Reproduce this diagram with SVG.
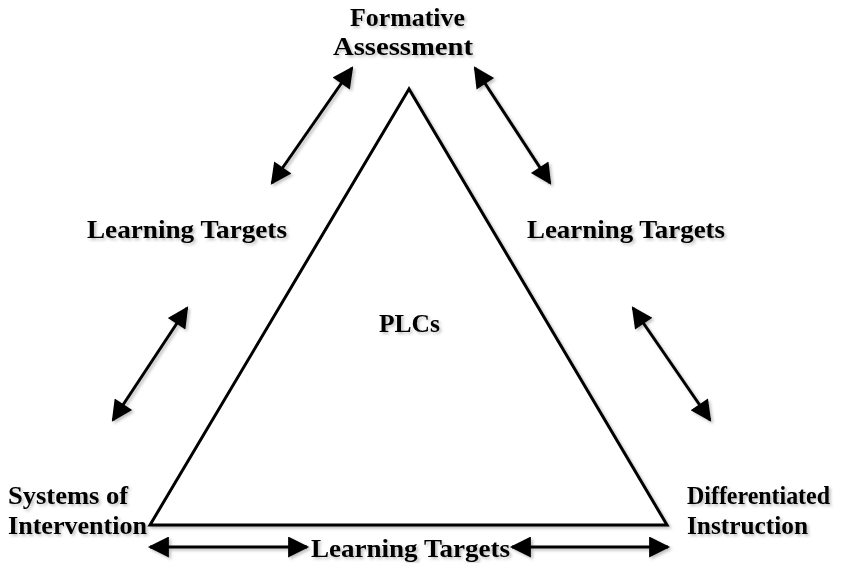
<svg xmlns="http://www.w3.org/2000/svg" width="852" height="563" viewBox="0 0 852 563">
<style>
.t{font-family:"Liberation Serif","Times New Roman",serif;font-weight:bold;font-size:26px;fill:#000}
.c{fill:none;stroke:#000;stroke-width:3;marker-start:url(#ah);marker-end:url(#ah)}
</style>
<defs>
<marker id="ah" viewBox="0 0 10 10" refX="9" refY="5" markerWidth="8" markerHeight="7" markerUnits="strokeWidth" orient="auto-start-reverse">
<path d="M0,0 L10,5 L0,10 Z" fill="#000"/>
</marker>
<filter id="sh" x="-10%" y="-10%" width="130%" height="130%">
<feDropShadow dx="2" dy="2" stdDeviation="1.5" flood-color="#000" flood-opacity="0.25"/>
</filter>
</defs>
<rect width="852" height="563" fill="#fff"/>
<g id="triangle" filter="url(#sh)">
<polygon points="409,89 150,525 667,525" fill="#fff" stroke="#000" stroke-width="3" stroke-linejoin="miter"/>
</g>
<g id="connectors" filter="url(#sh)">
<line class="c" x1="272" y1="183" x2="352" y2="68"/>
<line class="c" x1="550" y1="183" x2="475" y2="68"/>
<line class="c" x1="113" y1="420" x2="187" y2="308"/>
<line class="c" x1="710" y1="420" x2="633" y2="308"/>
<line class="c" x1="150" y1="547" x2="307" y2="547"/>
<line class="c" x1="512" y1="547" x2="668" y2="547"/>
</g>
<g id="formative" filter="url(#sh)">
<text class="t" x="350" y="26" textLength="115" lengthAdjust="spacingAndGlyphs">Formative</text>
<text class="t" x="333" y="55" textLength="140" lengthAdjust="spacingAndGlyphs">Assessment</text>
</g>
<g id="lt-left" filter="url(#sh)"><text class="t" x="87" y="238" textLength="200" lengthAdjust="spacingAndGlyphs">Learning Targets</text></g>
<g id="lt-right" filter="url(#sh)"><text class="t" x="527" y="238" textLength="198" lengthAdjust="spacingAndGlyphs">Learning Targets</text></g>
<g id="plcs" filter="url(#sh)"><text class="t" x="379" y="332" textLength="61" lengthAdjust="spacingAndGlyphs">PLCs</text></g>
<g id="systems" filter="url(#sh)">
<text class="t" x="8" y="504" textLength="120" lengthAdjust="spacingAndGlyphs">Systems of</text>
<text class="t" x="8" y="534" textLength="139" lengthAdjust="spacingAndGlyphs">Intervention</text>
</g>
<g id="differentiated" filter="url(#sh)">
<text class="t" x="687" y="504" textLength="143" lengthAdjust="spacingAndGlyphs">Differentiated</text>
<text class="t" x="687" y="534" textLength="121" lengthAdjust="spacingAndGlyphs">Instruction</text>
</g>
<g id="lt-bottom" filter="url(#sh)"><text class="t" x="311" y="557" textLength="199" lengthAdjust="spacingAndGlyphs">Learning Targets</text></g>
</svg>
